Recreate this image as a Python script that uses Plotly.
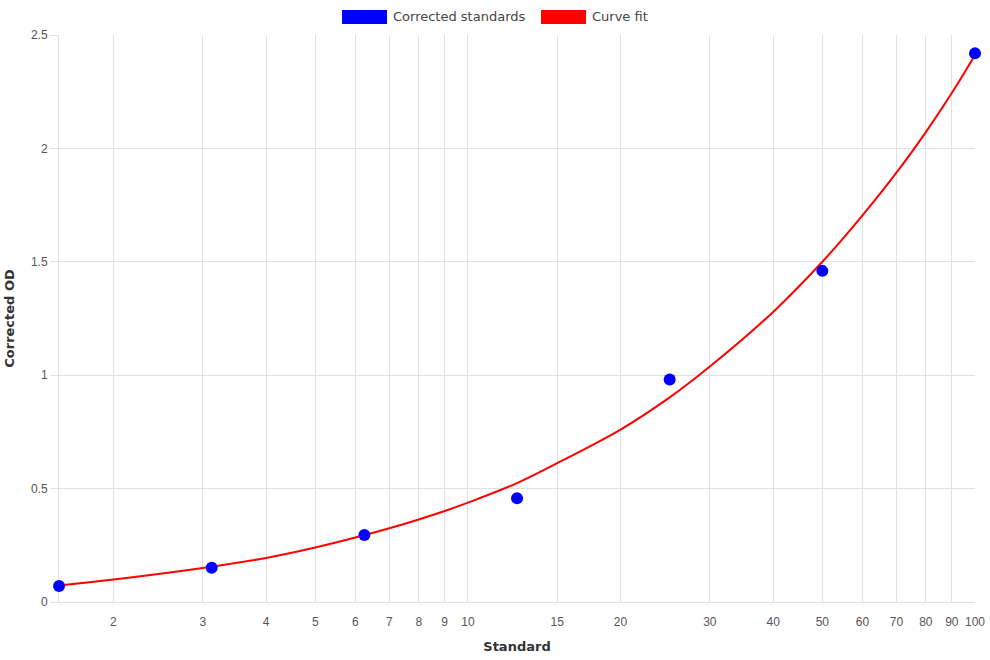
import math
import plotly.graph_objects as go

# Data
std_x = [1.5625, 3.125, 6.25, 12.5, 25, 50, 100]
std_y = [0.071, 0.151, 0.295, 0.457, 0.981, 1.46, 2.419]

fit_x = [1.5625, 2, 3, 4, 5, 6, 7, 8, 9, 10, 12.5, 15, 20, 25, 30, 40, 50, 60, 70, 80, 90, 100]
fit_y = [0.073, 0.099, 0.150, 0.194, 0.240, 0.284, 0.325, 0.364, 0.401, 0.438, 0.524,
         0.612, 0.760, 0.902, 1.038, 1.279, 1.50, 1.705, 1.893, 2.072, 2.244, 2.412]

x_tickvals = [2, 3, 4, 5, 6, 7, 8, 9, 10, 15, 20, 30, 40, 50, 60, 70, 80, 90, 100]
x_ticktext = [str(v) for v in x_tickvals]
y_tickvals = [0, 0.5, 1, 1.5, 2, 2.5]
y_ticktext = ["0", "0.5", "1", "1.5", "2", "2.5"]

legend_labels = ["Corrected standards", "Curve fit"]
legend_colors = ["#0000ff", "#ff0000"]

W, H = 990, 660
L, R, T, B = 59, 15, 35, 58
PW, PH = W - L - R, H - T - B

def px(xpix):
    return (xpix - L) / PW

def py(ypix):
    return (H - B - ypix) / PH

grid = "#e1e1e1"
tick_font = dict(family="Liberation Sans, Arial, sans-serif", size=12, color="#555555")
title_font = dict(family="DejaVu Sans, sans-serif", size=13, color="#333333")

fig = go.Figure()
fig.add_trace(go.Scatter(
    x=fit_x, y=fit_y, mode="lines", name=legend_labels[1],
    line=dict(color=legend_colors[1], width=2, shape="spline", smoothing=1.0),
    showlegend=False, hoverinfo="skip", cliponaxis=False))
fig.add_trace(go.Scatter(
    x=std_x, y=std_y, mode="markers", name=legend_labels[0],
    marker=dict(color=legend_colors[0], size=12, line=dict(width=0)),
    showlegend=False, cliponaxis=False))

# Manual legend (Chart.js style wide boxes)
shapes = []
annotations = []
box_lefts = [342, 541]
for i, lab in enumerate(legend_labels):
    x0 = box_lefts[i]
    shapes.append(dict(type="rect", xref="paper", yref="paper",
                       x0=px(x0), x1=px(x0 + 45), y0=py(24), y1=py(10),
                       fillcolor=legend_colors[i], line=dict(width=0), layer="above"))
    annotations.append(dict(text=lab, xref="paper", yref="paper",
                            x=px(x0 + 49), y=py(17), xanchor="left", yanchor="middle",
                            showarrow=False,
                            font=dict(family="DejaVu Sans, sans-serif", size=13, color="#444444")))

fig.update_layout(
    width=W, height=H,
    margin=dict(l=L, r=R, t=T, b=B),
    paper_bgcolor="white", plot_bgcolor="white",
    showlegend=False,
    shapes=shapes, annotations=annotations,
    xaxis=dict(
        type="log", range=[math.log10(1.5625) - 1e-4, 2],
        tickvals=x_tickvals, ticktext=x_ticktext, tickfont=tick_font,
        showgrid=True, gridcolor=grid, gridwidth=1,
        showline=True, linecolor=grid, linewidth=1,
        ticks="outside", ticklen=9, tickcolor="rgba(0,0,0,0)",
        zeroline=False, automargin=False, layer="below traces",
        title=dict(text="<b>Standard</b>", font=title_font, standoff=13),
    ),
    yaxis=dict(
        range=[0, 2.5], tickvals=y_tickvals, ticktext=y_ticktext, tickfont=tick_font,
        showgrid=True, gridcolor=grid, gridwidth=1,
        showline=True, linecolor=grid, linewidth=1,
        ticks="outside", ticklen=8, tickcolor=grid,
        zeroline=False, automargin=False, layer="below traces",
        title=dict(text="<b>Corrected OD</b>", font=title_font, standoff=13),
    ),
)

fig.write_html("out.html")
